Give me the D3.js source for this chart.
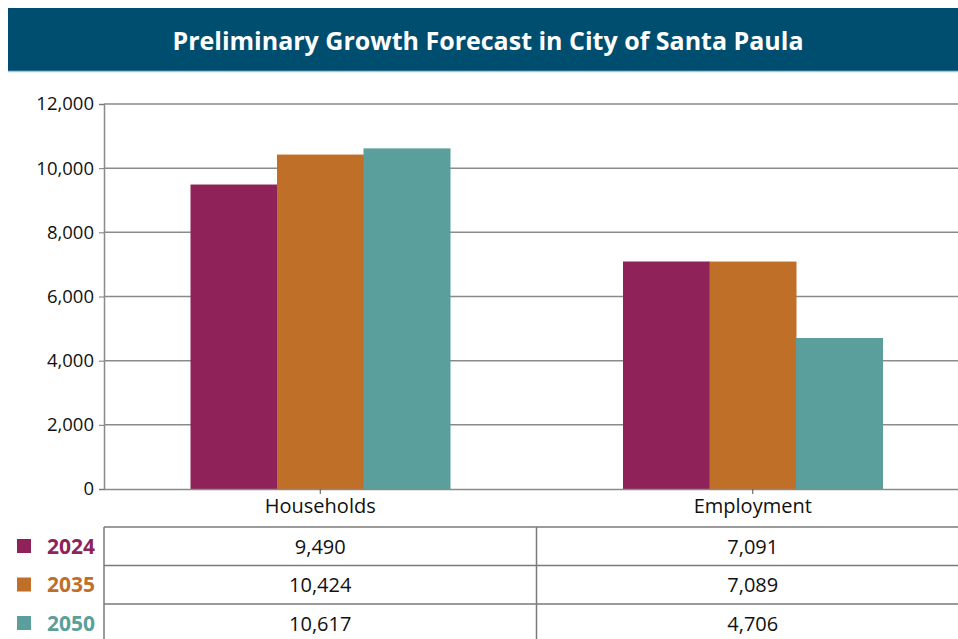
<!DOCTYPE html>
<html>
<head>
<meta charset="utf-8">
<script src="https://cdn.jsdelivr.net/npm/d3@7"></script>
<style>
  body { margin: 0; background: #fff; }
  svg { display: block; font-family: "Open Sans", "Noto Sans", sans-serif; }
</style>
</head>
<body>
<div id="chart"></div>
<script>
// chart data
var categories = ['Households', 'Employment'];
var years = ['2024', '2035', '2050'];
var values2024 = [9490, 7091];
var values2035 = [10424, 7089];
var values2050 = [10617, 4706];
var yTicks = [0, 2000, 4000, 6000, 8000, 10000, 12000];
var colors = ['#8e2259', '#bf6f28', '#5a9f9c'];

var series = [values2024, values2035, values2050];
var width = 958, height = 639;

var svg = d3.select('#chart').append('svg')
    .attr('width', width).attr('height', height);

// title banner
svg.append('rect').attr('x', 8).attr('y', 8).attr('width', 960).attr('height', 63)
    .attr('fill', '#004e6f');
svg.append('line').attr('x1', 8).attr('x2', 968).attr('y1', 71.5).attr('y2', 71.5)
    .attr('stroke', '#9fc9dc').attr('stroke-width', 1.5);
svg.append('text').attr('x', 488).attr('y', 50)
    .attr('text-anchor', 'middle').attr('fill', '#fff')
    .attr('font-size', 25).attr('font-weight', 'bold')
    .text('Preliminary Growth Forecast in City of Santa Paula');

var plotLeft = 104, plotRight = 969, plotTop = 104, plotBottom = 489;

var x = d3.scaleBand().domain(categories).range([plotLeft, plotRight])
    .paddingInner(0.4).paddingOuter(0.2);
var xs = d3.scaleBand().domain(years).range([0, x.bandwidth()]);
var y = d3.scaleLinear().domain([0, 12000]).range([plotBottom, plotTop]);

// gridlines
svg.append('g').selectAll('line').data(yTicks.filter(function (d) { return d > 0; }))
    .enter().append('line')
    .attr('x1', plotLeft).attr('x2', width)
    .attr('y1', function (d) { return y(d); })
    .attr('y2', function (d) { return y(d); })
    .attr('stroke', '#8a8a8a').attr('stroke-width', 1.5);

// bars
var groups = svg.append('g').selectAll('g').data(years).enter().append('g')
    .attr('fill', function (d, i) { return colors[i]; });
groups.selectAll('rect')
    .data(function (d, i) { return series[i].map(function (v, j) { return { year: d, cat: categories[j], v: v }; }); })
    .enter().append('rect')
    .attr('x', function (d) { return x(d.cat) + xs(d.year); })
    .attr('y', function (d) { return y(d.v); })
    .attr('width', xs.bandwidth() + 0.5)
    .attr('height', function (d) { return plotBottom - y(d.v); });

// y axis
var yAxis = svg.append('g').attr('transform', 'translate(' + plotLeft + ',0)')
    .call(d3.axisLeft(y).tickValues(yTicks).tickSize(5).tickPadding(5).tickFormat(d3.format(',')));
yAxis.selectAll('text').attr('font-size', 18.5).attr('fill', '#111').attr('font-family', '"Open Sans", sans-serif');
yAxis.selectAll('line').attr('stroke', '#777');
yAxis.select('.domain').attr('stroke', '#8a8a8a').attr('stroke-width', 1.5);

// x axis
var xAxis = svg.append('g').attr('transform', 'translate(0,' + plotBottom + ')')
    .call(d3.axisBottom(x).tickSize(5).tickSizeOuter(0).tickPadding(5));
xAxis.select('.domain').attr('stroke', '#8a8a8a').attr('stroke-width', 1.5);
xAxis.selectAll('line').attr('stroke', '#555');
xAxis.selectAll('text').attr('font-size', 20).attr('fill', '#111').attr('font-family', '"Open Sans", sans-serif');

// data table
var tableTop = 527, rowH = 38.5;
var table = svg.append('g');
years.forEach(function (yr, i) {
    var ry = tableTop + i * rowH;
    table.append('line').attr('x1', plotLeft).attr('x2', width).attr('y1', ry).attr('y2', ry)
        .attr('stroke', '#7a7a7a').attr('stroke-width', 1.5);
    table.append('rect').attr('x', 17).attr('y', ry + 12).attr('width', 14).attr('height', 14)
        .attr('fill', colors[i]);
    table.append('text').attr('x', 47).attr('y', ry + 26.5)
        .attr('font-size', 21).attr('font-weight', 'bold').attr('fill', colors[i]).text(yr);
    categories.forEach(function (c, j) {
        table.append('text').attr('x', x(c) + x.bandwidth() / 2).attr('y', ry + 26.5)
            .attr('text-anchor', 'middle').attr('font-size', 20).attr('fill', '#111')
            .text(d3.format(',')(series[i][j]));
    });
});
[plotLeft, plotLeft + x.step()].forEach(function (vx) {
    table.append('line').attr('x1', vx).attr('x2', vx).attr('y1', tableTop).attr('y2', height)
        .attr('stroke', '#7a7a7a').attr('stroke-width', 1.5);
});
</script>
</body>
</html>
